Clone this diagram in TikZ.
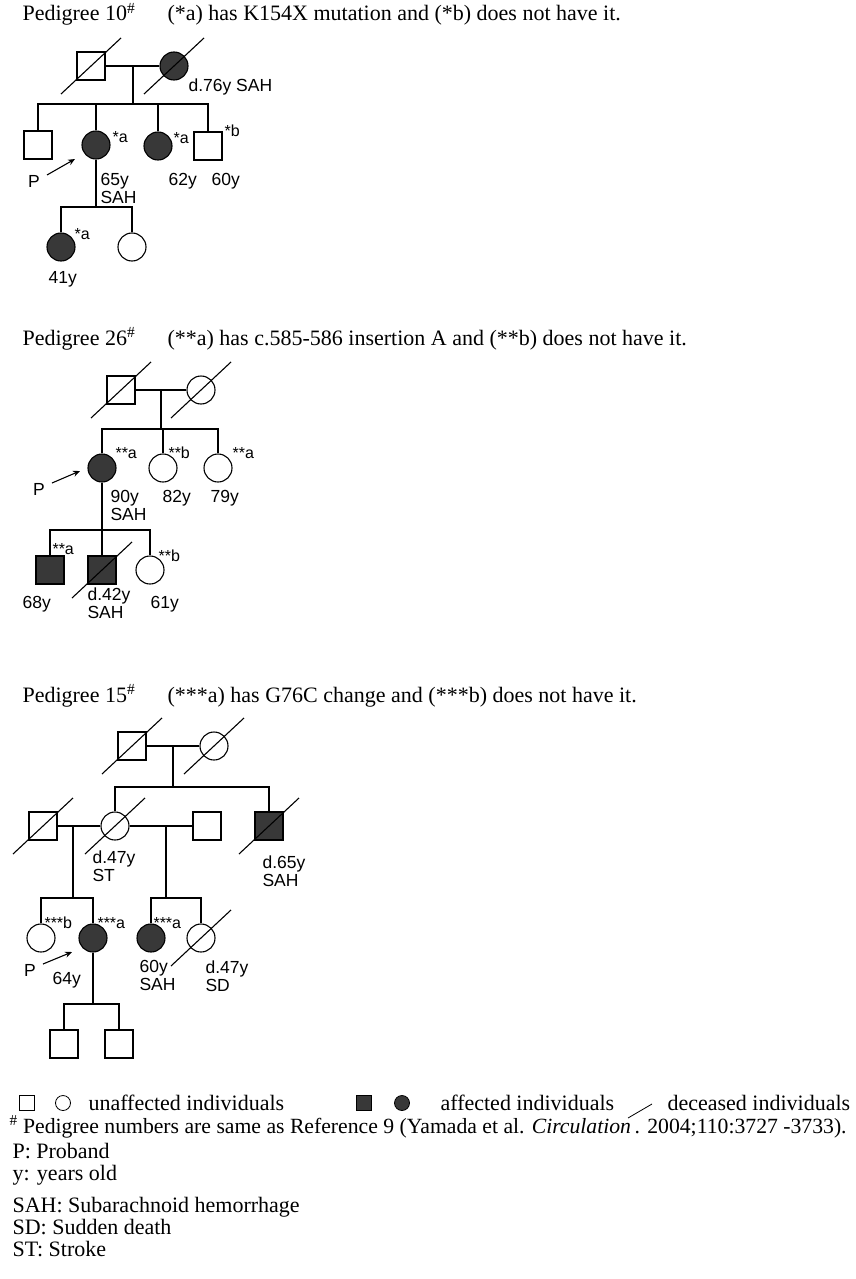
\documentclass[tikz,border=0pt]{standalone}
\usepackage{fontspec}
\setmainfont{Liberation Serif}
\setsansfont{Liberation Sans}
\usetikzlibrary{arrows.meta}

\begin{document}
\begin{tikzpicture}[
    x=1pt, y=-1pt,
    line width=1.1pt,
    male/.style={draw, rectangle, minimum size=28pt, inner sep=0pt},
    female/.style={draw, circle, minimum size=28pt, inner sep=0pt},
    ill/.style={fill=black!78},
    lbl/.style={font=\fontsize{17.5}{18}\selectfont\sffamily, anchor=north west, inner sep=0pt, align=left},
    tag/.style={font=\fontsize{16}{16}\selectfont\sffamily, anchor=west, inner sep=0pt},
    ttl/.style={font=\fontsize{22}{24}\selectfont, anchor=base west, inner sep=0pt},
    >={Stealth[length=7pt,width=6pt]}
]
\useasboundingbox (0,0) rectangle (856,1279);

% ---- Pedigree 10
\node[ttl] (t10) at (22,21) {Pedigree 10\textsuperscript{\#}};
\node[ttl] (n10) at (167,21) {(*a) has K154X mutation and (*b) does not have it.};

\node[male] (f10) at (91,66) {};
\node[female, ill] (m10) at (174,66) {};
\coordinate (j10) at (133,66);
\coordinate (s10) at (133,104);
\node[male] (c1) at (38,145) {};
\node[female, ill] (c2) at (96,145) {};
\node[female, ill] (c3) at (158,146) {};
\node[male] (c4) at (208,146) {};
\coordinate (u10) at (96,207);
\node[female, ill] (g1) at (61,247) {};
\node[female] (g2) at (132,247) {};

\draw (f10) -- (m10);
\draw (j10) -- (s10);
\draw (c1) |- (s10) -| (c4);
\draw (s10 -| c2) -- (c2);
\draw (s10 -| c3) -- (c3);
\draw (c2) -- (u10);
\draw (g1) |- (u10) -| (g2);

\node[lbl, anchor=west] at (188,87) {d.76y SAH};
\node[tag] at (112,137) {*a};
\node[lbl] at (100,173) {65y\\SAH};
\node[tag] at (173,138) {*a};
\node[lbl] at (168,173) {62y};
\node[tag] at (224,131) {*b};
\node[lbl] at (211,173) {60y};
\node[tag] at (74,234) {*a};
\node[lbl] at (48,271) {41y};

\node[lbl, anchor=center] (p10) at (34,181) {P};
\coordinate (a10) at (75,159);
\draw[->] ([shift={(13,-6)}]p10.center) -- (a10);

% ---- Pedigree 26
\node[ttl] (t26) at (22,345) {Pedigree 26\textsuperscript{\#}};
\node[ttl] (n26) at (167,345) {(**a) has c.585-586 insertion A and (**b) does not have it.};

\node[male] (f26) at (121,390) {};
\node[female] (m26) at (201,390) {};
\coordinate (j26) at (161,390);
\coordinate (s26) at (161,429);
\node[female, ill] (d1) at (102,468) {};
\node[female] (d2) at (163,468) {};
\node[female] (d3) at (218,468) {};
\coordinate (u26) at (102,530);
\node[male, ill] (e1) at (50,570) {};
\node[male, ill] (e2) at (102,570) {};
\node[female] (e3) at (150,570) {};

\draw (f26) -- (m26);
\draw (j26) -- (s26);
\draw (d1) |- (s26) -| (d3);
\draw (s26 -| d2) -- (d2);
\draw (d1) -- (e2);
\draw (e1) |- (u26) -| (e3);

\node[tag] at (115,453) {**a};
\node[lbl] at (110,490) {90y\\SAH};
\node[tag] at (168,453) {**b};
\node[lbl] at (162,490) {82y};
\node[tag] at (232,453) {**a};
\node[lbl] at (210,490) {79y};
\node[tag] at (52,549) {**a};
\node[lbl] at (22,596) {68y};
\node[lbl] at (87,587) {d.42y\\SAH};
\node[tag] at (158,556) {**b};
\node[lbl] at (150,596) {61y};

\node[lbl, anchor=center] (p26) at (39,489) {P};
\coordinate (a26) at (80,471);
\draw[->] ([shift={(13,-6)}]p26.center) -- (a26);

% ---- Pedigree 15
\node[ttl] (t15) at (22,702) {Pedigree 15\textsuperscript{\#}};
\node[ttl] (n15) at (167,702) {(***a) has G76C change and (***b) does not have it.};

\node[male] (f15) at (132,746) {};
\node[female] (m15) at (214,746) {};
\coordinate (j15) at (173,746);
\coordinate (s15) at (173,787);
\node[male] (h1) at (43,826) {};
\node[female] (h2) at (115,826) {};
\node[male] (h3) at (207,826) {};
\node[male, ill] (h4) at (269,826) {};
\coordinate (q1) at (73,826);
\coordinate (r1) at (73,898);
\coordinate (q2) at (166,826);
\coordinate (r2) at (166,898);
\node[female] (k1) at (41,938) {};
\node[female, ill] (k2) at (93,938) {};
\node[female, ill] (k3) at (151,938) {};
\node[female] (k4) at (201,938) {};
\coordinate (u15) at (93,1004);
\node[male] (l1) at (64,1044) {};
\node[male] (l2) at (119,1044) {};

\draw (f15) -- (m15);
\draw (j15) -- (s15);
\draw (h2) |- (s15) -| (h4);
\draw (h1) -- (h2) -- (h3);
\draw (q1) -- (r1);
\draw (k1) |- (r1) -| (k2);
\draw (q2) -- (r2);
\draw (k3) |- (r2) -| (k4);
\draw (k2) -- (u15);
\draw (l1) |- (u15) -| (l2);

\node[lbl] at (92,850) {d.47y\\ST};
\node[lbl] at (262,855) {d.65y\\SAH};
\node[tag] at (44,923) {***b};
\node[tag] at (97,923) {***a};
\node[lbl] at (52,972) {64y};
\node[tag] at (153,923) {***a};
\node[lbl] at (139,960) {60y\\SAH};
\node[lbl] at (205,960) {d.47y\\SD};

\node[lbl, anchor=center] (p15) at (30,970) {P};
\coordinate (a15) at (72,952);
\draw[->] ([shift={(13,-6)}]p15.center) -- (a15);

% deceased
\foreach \n in {f10,m10,f26,m26,e2,f15,m15,h1,h2,h4,k4}
  \draw ([shift={(-30,28)}]\n.center) -- ([shift={(30,-28)}]\n.center);

% ---- legend
\node[male, minimum size=15pt, line width=0.8pt] (lg1) at (27,1103) {};
\node[female, minimum size=15pt, line width=0.8pt] (lg2) at (63,1103) {};
\node[ttl] (lt1) at (88,1110) {unaffected individuals};
\node[male, ill, minimum size=15pt, line width=0.8pt] (lg3) at (364,1103) {};
\node[female, ill, minimum size=15pt, line width=0.8pt] (lg4) at (402,1103) {};
\node[ttl] (lt2) at (440,1110) {affected individuals};
\coordinate (ls1) at (628,1118);
\coordinate (ls2) at (652,1104);
\draw[line width=0.8pt] (ls1) -- (ls2);
\node[ttl] (lt3) at (667,1110) {deceased individuals};

\node[ttl, font=\fontsize{21.7}{24}\selectfont] (fn) at (9,1133) {\textsuperscript{\#} Pedigree numbers are same as Reference 9 (Yamada et al. \textit{Circulation}\,. 2004;110:3727 -3733).};
\node[ttl] (k1n) at (12,1158) {P: Proband};
\node[ttl] (k2n) at (12,1180) {y: years old};
\node[ttl] (k3n) at (12,1212) {SAH: Subarachnoid hemorrhage};
\node[ttl] (k4n) at (12,1234) {SD: Sudden death};
\node[ttl] (k5n) at (12,1256) {ST: Stroke};
\end{tikzpicture}
\end{document}
